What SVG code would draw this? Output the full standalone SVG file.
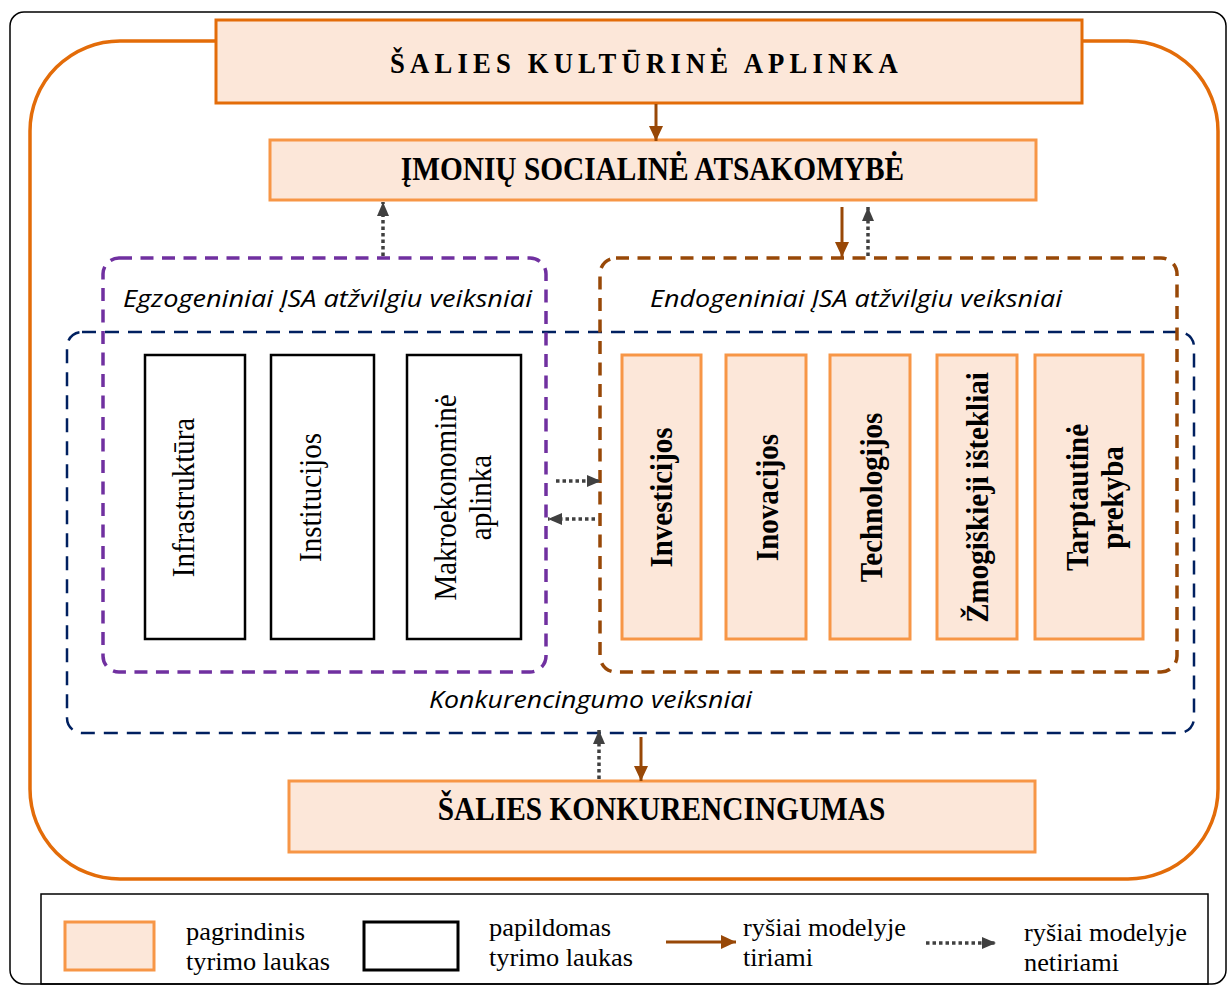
<svg xmlns="http://www.w3.org/2000/svg" width="1227" height="985" viewBox="0 0 1227 985">
<defs>
<style>
.tm{font-family:"Liberation Serif","Times New Roman",serif;fill:#000}
.b{font-weight:bold}
.lg{font-family:"Liberation Serif","Times New Roman",serif;fill:#000;font-size:25.5px}
.it{font-family:"Open Sans","Noto Sans",sans-serif;font-style:italic;font-size:23px;fill:#000}
.pk{fill:#FCE7D9;stroke:#F79646;stroke-width:3}
.wb{fill:#fff;stroke:#000;stroke-width:2.5}
.br{stroke:#984807;stroke-width:3;fill:none}
.dt{stroke:#404040;stroke-width:3.5;stroke-dasharray:3.5 3;fill:none}
</style>
<marker id="hb" markerUnits="userSpaceOnUse" markerWidth="16" markerHeight="14" refX="15" refY="7" orient="auto">
<path d="M0,0 L15,7 L0,14 Z" fill="#984807"/>
</marker>
<marker id="hg" markerUnits="userSpaceOnUse" markerWidth="15" markerHeight="14" refX="14" refY="7" orient="auto">
<path d="M0,1 L14,7 L0,13 Z" fill="#404040"/>
</marker>
</defs>
<rect width="1227" height="985" fill="#fff"/>
<g id="frame">
<rect x="10" y="12" width="1216" height="972" rx="14" fill="none" stroke="#000" stroke-width="1.5"/>
<rect x="30" y="41" width="1188" height="838" rx="90" fill="none" stroke="#E36C09" stroke-width="3.5"/>
</g>
<g id="group-konk">
<rect x="67" y="332" width="1127" height="401" rx="15" fill="none" stroke="#002060" stroke-width="2.5" stroke-dasharray="14 9"/>
<text class="it" x="429" y="708" textLength="323" lengthAdjust="spacingAndGlyphs">Konkurencingumo veiksniai</text>
</g>
<g id="group-egzo">
<rect x="103" y="258" width="443" height="414" rx="16" fill="none" stroke="#7030A0" stroke-width="3.5" stroke-dasharray="13 8.5"/>
<text class="it" x="123" y="307" textLength="409" lengthAdjust="spacingAndGlyphs">Egzogeniniai ĮSA atžvilgiu veiksniai</text>
</g>
<g id="group-endo">
<rect x="600" y="258" width="577" height="414" rx="16" fill="none" stroke="#984807" stroke-width="3.5" stroke-dasharray="13 8.5"/>
<text class="it" x="650" y="307" textLength="412" lengthAdjust="spacingAndGlyphs">Endogeniniai ĮSA atžvilgiu veiksniai</text>
</g>
<g id="node-kultura">
<rect x="216" y="20" width="866" height="83" fill="#FCE7D9" stroke="#E36C09" stroke-width="3"/>
<text class="tm b" font-size="30" letter-spacing="5.8" transform="translate(390,73) scale(0.89,1)">ŠALIES KULTŪRINĖ APLINKA</text>
</g>
<g id="node-isa">
<rect x="270" y="140" width="766" height="60" class="pk" stroke-width="3.5"/>
<text class="tm b" font-size="33" text-anchor="middle" transform="translate(652.5,180) scale(0.89,1)">ĮMONIŲ SOCIALINĖ ATSAKOMYBĖ</text>
</g>
<g id="node-konkurencingumas">
<rect x="289" y="781" width="746" height="71" class="pk"/>
<text class="tm b" font-size="33" text-anchor="middle" transform="translate(661.5,820) scale(0.89,1)">ŠALIES KONKURENCINGUMAS</text>
</g>
<g id="node-infrastruktura">
<rect x="145" y="355" width="100" height="284" class="wb"/>
<text class="tm" font-size="32.6" text-anchor="middle" transform="translate(193.5,497.5) rotate(-90) scale(0.89,1)">Infrastruktūra</text>
</g>
<g id="node-institucijos">
<rect x="271" y="355" width="103" height="284" class="wb"/>
<text class="tm" font-size="32.6" text-anchor="middle" transform="translate(321,497.5) rotate(-90) scale(0.89,1)">Institucijos</text>
</g>
<g id="node-makro">
<rect x="407" y="355" width="114" height="284" class="wb"/>
<text class="tm" font-size="32.6" text-anchor="middle" transform="translate(456,497.5) rotate(-90) scale(0.89,1)">Makroekonominė</text>
<text class="tm" font-size="32.6" text-anchor="middle" transform="translate(491,497.5) rotate(-90) scale(0.89,1)">aplinka</text>
</g>
<g id="node-investicijos">
<rect x="622" y="355" width="79" height="284" class="pk" stroke-width="2.5"/>
<text class="tm b" font-size="32.6" text-anchor="middle" transform="translate(672,497.5) rotate(-90) scale(0.89,1)">Investicijos</text>
</g>
<g id="node-inovacijos">
<rect x="726" y="355" width="80" height="284" class="pk" stroke-width="2.5"/>
<text class="tm b" font-size="32.6" text-anchor="middle" transform="translate(778,497.5) rotate(-90) scale(0.89,1)">Inovacijos</text>
</g>
<g id="node-technologijos">
<rect x="830" y="355" width="80" height="284" class="pk" stroke-width="2.5"/>
<text class="tm b" font-size="32.6" text-anchor="middle" transform="translate(882,497.5) rotate(-90) scale(0.89,1)">Technologijos</text>
</g>
<g id="node-zmogiskieji">
<rect x="937" y="355" width="80" height="284" class="pk" stroke-width="2.5"/>
<text class="tm b" font-size="32.6" text-anchor="middle" transform="translate(988,497.5) rotate(-90) scale(0.89,1)">Žmogiškieji ištekliai</text>
</g>
<g id="node-prekyba">
<rect x="1035" y="355" width="108" height="284" class="pk" stroke-width="2.5"/>
<text class="tm b" font-size="32.6" text-anchor="middle" transform="translate(1088,497.5) rotate(-90) scale(0.89,1)">Tarptautinė</text>
<text class="tm b" font-size="32.6" text-anchor="middle" transform="translate(1123,497.5) rotate(-90) scale(0.89,1)">prekyba</text>
</g>
<g id="connectors">
<line class="br" x1="656" y1="104" x2="656" y2="141" marker-end="url(#hb)"/>
<line class="dt" x1="383" y1="256" x2="383" y2="202" marker-end="url(#hg)"/>
<line class="br" x1="842" y1="207" x2="842" y2="257" marker-end="url(#hb)"/>
<line class="dt" x1="868" y1="256" x2="868" y2="207" marker-end="url(#hg)"/>
<line class="dt" x1="556" y1="481" x2="601" y2="481" marker-end="url(#hg)"/>
<line class="dt" x1="595" y1="519" x2="548" y2="519" marker-end="url(#hg)"/>
<line class="dt" x1="599" y1="779" x2="599" y2="730" marker-end="url(#hg)"/>
<line class="br" x1="641" y1="737" x2="641" y2="781" marker-end="url(#hb)"/>
</g>
<g id="legend">
<rect x="41" y="894" width="1167" height="90" fill="none" stroke="#000" stroke-width="1.5"/>
<rect x="65" y="922" width="89" height="48" class="pk"/>
<text class="lg" x="186" y="940" textLength="119" lengthAdjust="spacingAndGlyphs">pagrindinis</text>
<text class="lg" x="186" y="970" textLength="144" lengthAdjust="spacingAndGlyphs">tyrimo laukas</text>
<rect x="364" y="922" width="94" height="48" fill="#fff" stroke="#000" stroke-width="3"/>
<text class="lg" x="489" y="936" textLength="122" lengthAdjust="spacingAndGlyphs">papildomas</text>
<text class="lg" x="489" y="966" textLength="144" lengthAdjust="spacingAndGlyphs">tyrimo laukas</text>
<line class="br" x1="666" y1="942" x2="736" y2="942" marker-end="url(#hb)"/>
<text class="lg" x="743" y="936" textLength="163" lengthAdjust="spacingAndGlyphs">ryšiai modelyje</text>
<text class="lg" x="743" y="966" textLength="70" lengthAdjust="spacingAndGlyphs">tiriami</text>
<line class="dt" x1="926" y1="943" x2="996" y2="943" marker-end="url(#hg)"/>
<text class="lg" x="1024" y="941" textLength="163" lengthAdjust="spacingAndGlyphs">ryšiai modelyje</text>
<text class="lg" x="1024" y="971" textLength="95" lengthAdjust="spacingAndGlyphs">netiriami</text>
</g>
</svg>
